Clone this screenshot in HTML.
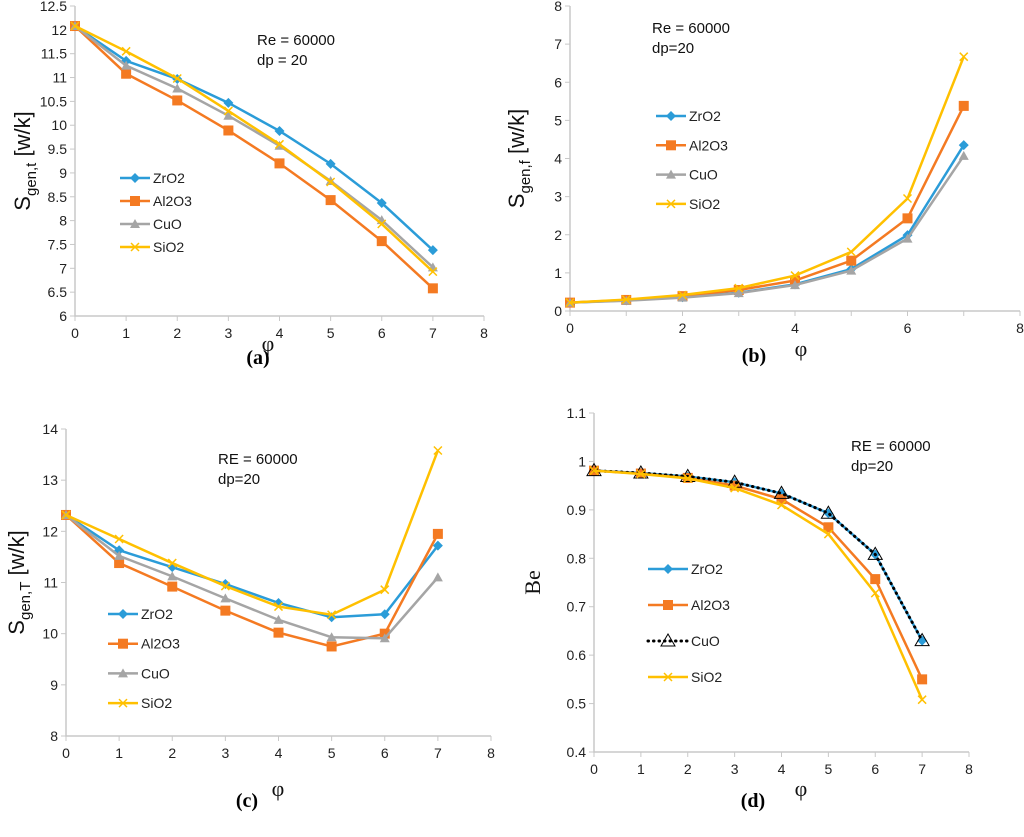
<!DOCTYPE html>
<html><head><meta charset="utf-8"><style>
body{margin:0;background:#fff}
svg{display:block;font-family:"Liberation Sans",sans-serif}
</style></head><body>
<svg id="svg" width="1024" height="837" viewBox="0 0 1024 837"></svg>
<script>
const xCats=[0,1,2,3,4,5,6,7];
const seriesNames=['ZrO2','Al2O3','CuO','SiO2'];
const aZrO2=[12.08,11.35,10.97,10.47,9.88,9.19,8.37,7.38];
const aAl2O3=[12.08,11.08,10.52,9.89,9.2,8.43,7.57,6.58];
const aCuO=[12.08,11.25,10.77,10.2,9.57,8.83,8.01,7.02];
const aSiO2=[12.08,11.55,10.98,10.3,9.6,8.81,7.93,6.93];
const bZrO2=[0.22,0.28,0.36,0.48,0.7,1.1,1.99,4.35];
const bAl2O3=[0.22,0.29,0.39,0.55,0.8,1.32,2.43,5.38];
const bCuO=[0.22,0.27,0.35,0.47,0.68,1.06,1.9,4.07];
const bSiO2=[0.22,0.3,0.42,0.6,0.93,1.55,2.95,6.67];
const cZrO2=[12.32,11.63,11.3,10.97,10.6,10.32,10.38,11.72];
const cAl2O3=[12.32,11.38,10.92,10.45,10.02,9.75,10.0,11.95];
const cCuO=[12.32,11.52,11.12,10.69,10.27,9.93,9.91,11.1];
const cSiO2=[12.32,11.85,11.38,10.93,10.53,10.37,10.86,13.58];
const dZrO2=[0.981,0.976,0.969,0.957,0.934,0.893,0.808,0.630];
const dAl2O3=[0.981,0.975,0.966,0.950,0.922,0.864,0.757,0.550];
const dCuO=[0.981,0.976,0.969,0.957,0.934,0.893,0.808,0.630];
const dSiO2=[0.981,0.974,0.965,0.945,0.910,0.850,0.728,0.508];
const aTicks=[6,6.5,7,7.5,8,8.5,9,9.5,10,10.5,11,11.5,12,12.5];
const bTicks=[0,1,2,3,4,5,6,7,8];
const cTicks=[8,9,10,11,12,13,14];
const dTicks=[0.4,0.5,0.6,0.7,0.8,0.9,1,1.1];
const xTicksFull=[0,1,2,3,4,5,6,7,8];
const xTicksEven=[0,2,4,6,8];

const NS='http://www.w3.org/2000/svg';
const svg=document.getElementById('svg');
function el(tag,attrs,parent,text){const e=document.createElementNS(NS,tag);for(const k in attrs)e.setAttribute(k,attrs[k]);if(text!==undefined)e.textContent=text;(parent||svg).appendChild(e);return e;}
const COL={ZrO2:'#2b9cd8',Al2O3:'#f47a22',CuO:'#a5a5a5',SiO2:'#ffc000'};

function marker(g,name,x,y,style){
  const c=COL[name];let m;
  if(name==='ZrO2') m=el('polygon',{points:`${x},${y-5} ${x+5},${y} ${x},${y+5} ${x-5},${y}`,fill:c},g);
  else if(name==='Al2O3') m=el('rect',{x:x-5,y:y-5,width:10,height:10,fill:c},g);
  else if(name==='CuO'){
    if(style==='dotted') m=el('polygon',{points:`${x},${y-7} ${x+7},${y+5} ${x-7},${y+5}`,fill:'none',stroke:'#000','stroke-width':1},g);
    else m=el('polygon',{points:`${x},${y-5} ${x+5},${y+4} ${x-5},${y+4}`,fill:c},g);
  } else { m=el('path',{d:`M${x-4},${y-4}L${x+4},${y+4}M${x-4},${y+4}L${x+4},${y-4}`,stroke:c,'stroke-width':1.5},g); }
  
  
}

function panel(p){
  const g=el('g',{},svg);
  
  
  const sx=v=>p.x0+(v-p.xmin)/(p.xmax-p.xmin)*(p.x1-p.x0);
  const sy=v=>p.y0-(v-p.ymin)/(p.ymax-p.ymin)*(p.y0-p.y1);
  const ax=el('path',{d:`M${p.x0},${p.y1}V${p.y0}H${p.x1}`,stroke:'#c8c8c8','stroke-width':1.5,fill:'none'},g);
  
  p.yt.forEach(t=>{const y=sy(t);el('line',{x1:p.x0-5,x2:p.x0,y1:y,y2:y,stroke:'#c8c8c8'},g);
    const tx=el('text',{x:p.x0-8,y:y+5,'font-size':14,'text-anchor':'end',fill:'#222'},g,String(t));
    });
  xTicksFull.forEach(t=>{const x=sx(t);el('line',{x1:x,x2:x,y1:p.y0,y2:p.y0+5,stroke:'#c8c8c8'},g);});
  p.xt.forEach(t=>{const tx=el('text',{x:sx(t),y:p.y0+22,'font-size':14,'text-anchor':'middle',fill:'#222'},g,String(t));
    });
  seriesNames.forEach((n,i)=>{
    const vals=p.data[i];const dotted=(p.dottedCuO&&n==='CuO');
    const pts=vals.map((v,j)=>sx(xCats[j])+','+sy(v)).join(' ');
    const pl=el('polyline',{points:pts,fill:'none',stroke:dotted?'#000':COL[n],'stroke-width':dotted?3:2.5,'stroke-dasharray':dotted?'0.5,5':'none','stroke-linecap':dotted?'round':'butt'},g);
    
    vals.forEach((v,j)=>marker(g,n,sx(xCats[j]),sy(v),dotted?'dotted':''));
    const ly=p.leg[2]+i*p.leg[3];
    const lg=el('g',{},g);
    el('line',{x1:p.leg[0],x2:p.leg[1],y1:ly,y2:ly,stroke:dotted?'#000':COL[n],'stroke-width':dotted?3:2.5,'stroke-dasharray':dotted?'0.5,5':'none','stroke-linecap':dotted?'round':'butt'},lg);
    marker(lg,n,(p.leg[0]+p.leg[1])/2,ly,dotted?'dotted':'');
    el('text',{x:p.leg[1]+3,y:ly+5,'font-size':14,fill:'#222'},lg,n);
  });
  const an=el('text',{x:p.ann[0],y:p.ann[1],'font-size':15,fill:'#111'},g);
  
  el('tspan',{x:p.ann[0],dy:0},an,p.ann[2]);el('tspan',{x:p.ann[0],dy:20},an,p.ann[3]);
  const xl=el('text',{x:p.phi[0],y:p.phi[1],'font-size':22,'text-anchor':'middle',fill:'#111','font-family':'Liberation Serif,serif'},g,'φ');
  
  const yl=el('text',{transform:`translate(${p.ytx},${(p.y0+p.y1)/2}) rotate(-90)`,'text-anchor':'middle','font-size':22,fill:'#111','font-family':p.serifY?'Liberation Serif,serif':'Liberation Sans,sans-serif'},g);
  
  if(p.serifY){yl.textContent='Be';}
  else{el('tspan',{},yl,'S');el('tspan',{'font-size':15,dy:6},yl,p.sub);el('tspan',{dy:-6},yl,'  [w/k]');}
  const lab=el('text',{x:p.lab[0],y:p.lab[1],'font-size':20,'font-weight':'bold','text-anchor':'middle','font-family':'Liberation Serif,serif'},g,p.lab[2]);
  
}

panel({id:'a',x0:75,x1:484,y0:316,y1:6,xmin:0,xmax:8,ymin:6,ymax:12.5,yt:aTicks,xt:xTicksFull,phi:[268,351],
  data:[aZrO2,aAl2O3,aCuO,aSiO2],leg:[120,150,178,23],ann:[257,45,'Re = 60000','dp = 20'],ytx:30,sub:'gen,t',lab:[258,364,'(a)']});
panel({id:'b',x0:570,x1:1020,y0:311,y1:6,xmin:0,xmax:8,ymin:0,ymax:8,yt:bTicks,xt:xTicksEven,phi:[801,356],
  data:[bZrO2,bAl2O3,bCuO,bSiO2],leg:[656,686,116,29.3],ann:[652,33,'Re = 60000','dp=20'],ytx:524,sub:'gen,f',lab:[754,362,'(b)']});
panel({id:'c',x0:66,x1:491,y0:736,y1:429,xmin:0,xmax:8,ymin:8,ymax:14,yt:cTicks,xt:xTicksFull,phi:[278,796],
  data:[cZrO2,cAl2O3,cCuO,cSiO2],leg:[108,138,614,29.7],ann:[218,464,'RE = 60000','dp=20'],ytx:24,sub:'gen,T',lab:[247,807,'(c)']});
panel({id:'d',x0:594,x1:969,y0:752,y1:413,xmin:0,xmax:8,ymin:0.4,ymax:1.1,yt:dTicks,xt:xTicksFull,dottedCuO:true,serifY:true,phi:[801,796],
  data:[dZrO2,dAl2O3,dCuO,dSiO2],leg:[648,688,569,36],ann:[851,451,'RE = 60000','dp=20'],ytx:540,lab:[753,807,'(d)']});
</script>
</body></html>
